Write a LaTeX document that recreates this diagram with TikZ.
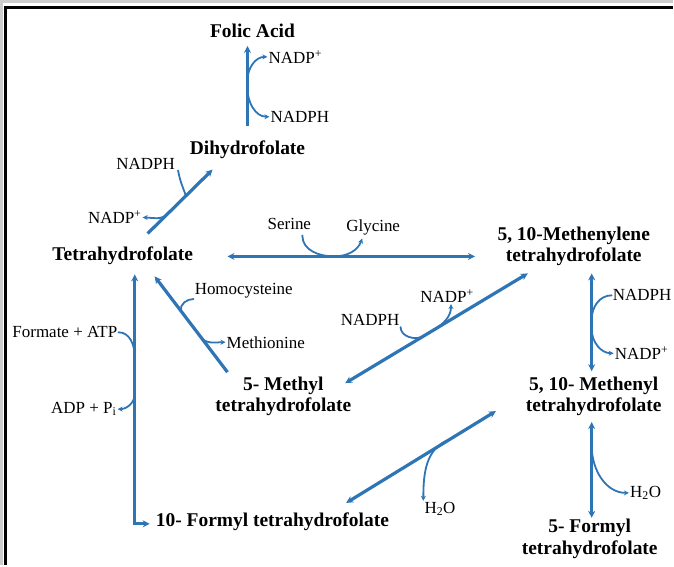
\documentclass[tikz,border=0pt]{standalone}
\usepackage{fontspec}
\setmainfont{Liberation Serif}
\usepackage{xcolor}
\usepackage{tikz}
\usetikzlibrary{arrows.meta, calc}

\definecolor{pathblue}{RGB}{46,117,182}

\tikzset{
  cpd/.style={font=\fontsize{19.5}{21.5}\selectfont\bfseries, align=center, inner sep=1pt},
  cof/.style={font=\fontsize{17}{19}\selectfont, inner sep=1pt},
  rxn/.style={pathblue, line width=3.2pt, >={Stealth[length=7pt,width=7pt]}},
  feed/.style={pathblue, line width=1.8pt, line cap=round},
  side/.style={feed, ->, >={Stealth[length=5pt,width=5pt]}},
}

\begin{document}
\begin{tikzpicture}[x=1pt, y=1pt]
% frame
\fill[black!20] (0,0) rectangle (674,-566);
\fill[white] (3,-3) rectangle (674,-566);
\draw[line width=3pt] (6,-566) -- (6,-7.5) -- (674,-7.5);
\useasboundingbox (0,0) rectangle (674,-566);

% compounds
\node[cpd] (folic) at (253,-31) {Folic Acid};
\node[cpd] (dhf) at (248,-150) {Dihydrofolate};
\node[cpd] (thf) at (123,-256) {Tetrahydrofolate};
\node[cpd] (methylene) at (575,-247) {5, 10-Methenylene\\tetrahydrofolate};
\node[cpd] (methyl) at (284,-397) {5- Methyl\\tetrahydrofolate};
\node[cpd] (methenyl) at (595,-397) {5, 10- Methenyl\\tetrahydrofolate};
\node[cpd] (formylten) at (273,-523) {10- Formyl tetrahydrofolate};
\node[cpd] (formylfive) at (591,-540) {5- Formyl\\tetrahydrofolate};

% cofactors
\node[cof, anchor=west] (nadpA) at (268,-57) {NADP\textsuperscript{+}};
\node[cof, anchor=west] (nadphA) at (270,-117) {NADPH};
\node[cof] (nadphB) at (146,-164) {NADPH};
\node[cof] (nadpB) at (115,-218) {NADP\textsuperscript{+}};
\node[cof] (serine) at (290,-224) {Serine};
\node[cof] (glycine) at (374,-228) {Glycine};
\node[cof, anchor=west] (homocys) at (194,-291) {Homocysteine};
\node[cof, anchor=west] (methionine) at (226,-343) {Methionine};
\node[cof] (nadphE) at (371,-321) {NADPH};
\node[cof] (nadpE) at (448,-297) {NADP\textsuperscript{+}};
\node[cof, anchor=west] (nadphF) at (613,-296) {NADPH};
\node[cof, anchor=west] (nadpF) at (615,-354) {NADP\textsuperscript{+}};
\node[cof] (formate) at (65,-333) {Formate + ATP};
\node[cof] (adp) at (84,-410) {ADP + P\textsubscript{i}};
\node[cof] (waterG) at (441,-510) {H\textsubscript{2}O};
\node[cof] (waterH) at (647,-494) {H\textsubscript{2}O};

% arrow ends
\coordinate (a1) at (248,-126); \coordinate (a2) at (248,-46);
\coordinate (b1) at (213,-170); \coordinate (b2) at (148,-234);
\coordinate (c1) at (228,-257); \coordinate (c2) at (476,-257);
\coordinate (d1) at (155,-277); \coordinate (d2) at (228,-373);
\coordinate (e1) at (529,-274); \coordinate (e2) at (346,-384);
\coordinate (f1) at (593,-274); \coordinate (f2) at (593,-372);
\coordinate (g1) at (497,-412); \coordinate (g2) at (347,-504);
\coordinate (h1) at (593,-423); \coordinate (h2) at (593,-519);
\coordinate (i1) at (135,-275); \coordinate (i2) at (135,-525); \coordinate (i3) at (150,-525);
\coordinate (serIn) at (303,-236); \coordinate (glyOut) at (363,-239);

% main reactions
\draw[rxn, ->] (a1) -- (a2);
\draw[rxn, ->] (b2) -- (b1);
\draw[rxn, <->] (c1) -- (c2);
\draw[rxn, ->] (d2) -- (d1);
\draw[rxn, <->] (e1) -- (e2);
\draw[rxn, <->] (f1) -- (f2);
\draw[rxn, <->] (g1) -- (g2);
\draw[rxn, <->] (h1) -- (h2);
\draw[rxn, <->] (i1) -- (i2) -- (i3);

% side branches
\draw[side] ($(a1)!0.57!(a2)$) to[out=90,in=180] (nadpA.west);
\draw[side] ($(a1)!0.47!(a2)$) to[out=-90,in=180] (nadphA.west);
\draw[feed] ([xshift=2pt]nadphB.south east) to[out=-80,in=110] ($(b1)!0.41!(b2)$);
\draw[side] ($(b1)!0.69!(b2)$) to[out=225,in=0] (nadpB.east);
\draw[side] (serIn) to[out=-90,in=180] ($(c1)!0.43!(c2)$) to[out=0,in=-110] (glyOut);
\draw[feed] (homocys.south west) to[out=180,in=100] ($(d1)!0.36!(d2)$);
\draw[side] ($(d1)!0.62!(d2)$) to[out=-60,in=180] (methionine.west);
\draw[feed] (nadphE.south east) to[out=-90,in=211] ($(e1)!0.57!(e2)$);
\draw[side] ($(e1)!0.52!(e2)$) to[out=31,in=-90] ([xshift=4pt]nadpE.south);
\draw[feed] (nadphF.west) to[out=180,in=90] ($(f1)!0.47!(f2)$);
\draw[side] ($(f1)!0.57!(f2)$) to[out=-90,in=180] (nadpF.west);
\draw[side] ($(g1)!0.31!(g2)$) to[out=200,in=90] (waterG.north west);
\draw[side] ($(h1)!0.25!(h2)$) to[out=-90,in=180] (waterH.west);
\draw[feed] (formate.east) to[out=0,in=90] ($(i1)!0.33!(i2)$);
\draw[side] ($(i1)!0.48!(i2)$) to[out=-90,in=0] (adp.east);
\end{tikzpicture}
\end{document}
